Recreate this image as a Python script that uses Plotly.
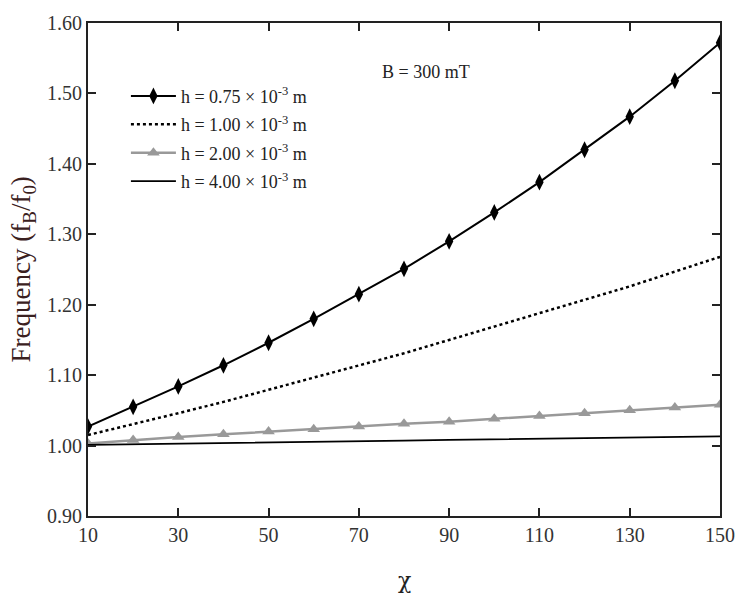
import plotly.graph_objects as go

chi = [10, 20, 30, 40, 50, 60, 70, 80, 90, 100, 110, 120, 130, 140, 150]
h075 = [1.027, 1.055, 1.084, 1.114, 1.146, 1.180, 1.215, 1.251, 1.290, 1.331, 1.374, 1.420, 1.467, 1.518, 1.572]
h100 = [1.015, 1.030, 1.046, 1.062, 1.079, 1.096, 1.113, 1.131, 1.150, 1.169, 1.189, 1.207, 1.226, 1.247, 1.268]
h200 = [1.003, 1.008, 1.012, 1.016, 1.020, 1.023, 1.027, 1.031, 1.034, 1.038, 1.042, 1.046, 1.050, 1.054, 1.058]
h400 = [1.001, 1.002, 1.003, 1.003, 1.004, 1.005, 1.006, 1.007, 1.008, 1.009, 1.009, 1.010, 1.011, 1.012, 1.013]
names = ["h = 0.75 × 10<sup>-3</sup> m", "h = 1.00 × 10<sup>-3</sup> m",
         "h = 2.00 × 10<sup>-3</sup> m", "h = 4.00 × 10<sup>-3</sup> m"]
x_ticks = [10, 30, 50, 70, 90, 110, 130, 150]
y_ticks = [0.90, 1.00, 1.10, 1.20, 1.30, 1.40, 1.50, 1.60]

FONT = "'Liberation Serif', 'Times New Roman', Times, serif"
fig = go.Figure()
fig.add_trace(go.Scatter(x=chi, y=h075, name=names[0], mode="lines+markers",
                         line=dict(color="black", width=2),
                         marker=dict(symbol="diamond-tall", size=12, color="black"),
                         legendgroup="a"))
fig.add_trace(go.Scatter(x=chi, y=h100, name=names[1], mode="lines",
                         line=dict(color="black", width=2.5, dash="dot"),
                         legendgroup="b"))
fig.add_trace(go.Scatter(x=chi, y=h200, name=names[2], mode="lines+markers",
                         line=dict(color="#999999", width=2.5),
                         marker=dict(symbol="triangle-up", size=11, color="#999999"),
                         legendgroup="c"))
fig.add_trace(go.Scatter(x=chi, y=h400, name=names[3], mode="lines",
                         line=dict(color="black", width=1.8),
                         legendgroup="d"))

axis_common = dict(showline=True, linecolor="#222", linewidth=1.8, mirror="ticks",
                   ticks="inside", ticklen=8, tickwidth=1.5, tickcolor="#222",
                   showgrid=False, zeroline=False,
                   tickfont=dict(family=FONT, size=20, color="#333"))
fig.update_xaxes(range=[10, 150], tickvals=x_ticks, ticktext=[str(v) for v in x_ticks],
                 **axis_common)
fig.update_yaxes(range=[0.90, 1.60], tickvals=y_ticks, ticktext=[f"{v:.2f}" for v in y_ticks],
                 **axis_common)

fig.add_annotation(text="B = 300 mT", xref="paper", yref="paper", x=0.535, y=0.9,
                   showarrow=False, xanchor="center", yanchor="middle",
                   font=dict(family=FONT, size=18, color="#222"))
fig.add_annotation(text="χ", xref="paper", yref="paper", x=0.5, y=-0.13,
                   showarrow=False, xanchor="center", yanchor="middle",
                   font=dict(family="'DejaVu Serif', serif", size=22, color="#222"))
fig.add_annotation(text="Frequency (f<sub>B</sub>/f<sub>0</sub>)", xref="paper", yref="paper",
                   x=-0.103, y=0.5, textangle=-90,
                   showarrow=False, xanchor="center", yanchor="middle",
                   font=dict(family=FONT, size=27, color="#3a2020"))

fig.update_layout(
    width=747, height=597,
    margin=dict(l=88, r=18, t=23, b=81),
    paper_bgcolor="white", plot_bgcolor="white",
    showlegend=True,
    legend=dict(x=0.06, y=0.889, xanchor="left", yanchor="top",
                bgcolor="rgba(0,0,0,0)", tracegroupgap=2, itemwidth=45,
                font=dict(family=FONT, size=18, color="#222")),
)
fig.write_html("out.html")
